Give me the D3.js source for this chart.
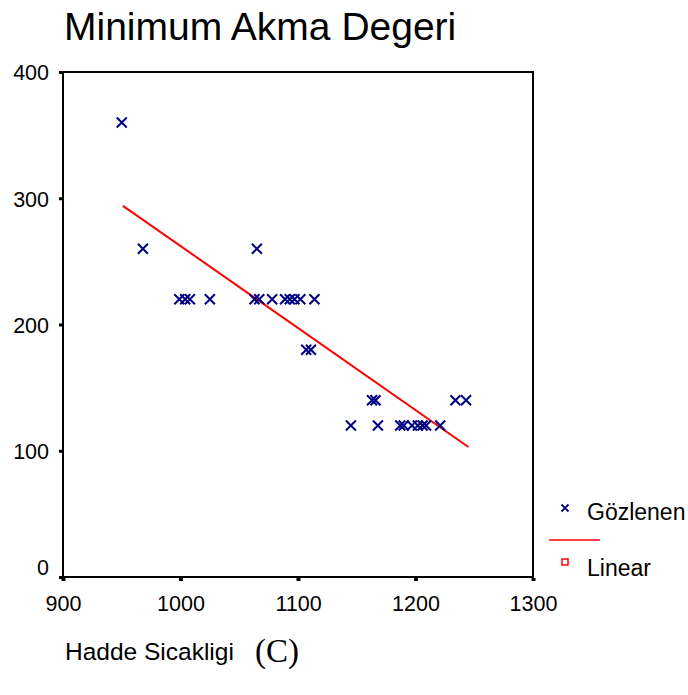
<!DOCTYPE html>
<html>
<head>
<meta charset="utf-8">
<script src="https://cdn.jsdelivr.net/npm/d3@7"></script>
<style>
  html, body { margin: 0; padding: 0; background: #fff; }
  svg { display: block; }
  .sans { font-family: "Liberation Sans", Arial, Helvetica, sans-serif; }
  .serif { font-family: "Liberation Serif", "Times New Roman", serif; }
</style>
</head>
<body>
<svg id="chart" width="688" height="695"></svg>
<script>
// Observed values: rolling temperature (C) vs. minimum yield value
const obsTemp = [
  950, 968, 1065,
  999, 1004, 1008, 1025, 1063, 1067, 1078, 1089, 1093, 1097, 1102, 1114,
  1107, 1111,
  1163, 1166, 1234, 1243,
  1145, 1168, 1187, 1190, 1197, 1202, 1206, 1209, 1221
];
const obsYield = [
  360, 260, 260,
  220, 220, 220, 220, 220, 220, 220, 220, 220, 220, 220, 220,
  180, 180,
  140, 140, 140, 140,
  120, 120, 120, 120, 120, 120, 120, 120, 120
];
// Linear fit, drawn over the observed temperature range
const fitTemp = [951, 1245];
const fitYield = [294, 103];

const xTicks = [900, 1000, 1100, 1200, 1300];
const yTicks = [0, 100, 200, 300, 400];

const titleText = "Minimum Akma Degeri";
const xLabel = "Hadde Sicakligi";
const xUnit = "(C)";
const legendLabels = ["Gözlenen", "Linear"];

const navy = "#000080";
const red = "#ff0000";

const svg = d3.select("#chart");

const x = d3.scaleLinear().domain([900, 1300]).range([63, 533]);
const y = d3.scaleLinear().domain([0, 400]).range([577, 72]);

// Title
svg.append("text")
  .attr("class", "sans")
  .attr("x", 64).attr("y", 40)
  .attr("font-size", 39)
  .attr("fill", "#000")
  .text(titleText);

// Plot frame
svg.append("rect")
  .attr("x", x(900)).attr("y", y(400))
  .attr("width", x(1300) - x(900)).attr("height", y(0) - y(400))
  .attr("fill", "none").attr("stroke", "#000").attr("stroke-width", 2);

// Y axis
const yAxis = svg.append("g")
  .attr("transform", `translate(${x(900) - 1},0)`)
  .call(d3.axisLeft(y).tickValues(yTicks).tickFormat(d3.format("d"))
    .tickSize(3).tickPadding(10).tickSizeOuter(0));
yAxis.select(".domain").remove();
yAxis.selectAll(".tick line").attr("stroke", "#000").attr("stroke-width", 3);
yAxis.selectAll(".tick text")
  .attr("class", "sans")
  .attr("font-size", 21.5)
  .attr("fill", "#000")
  .attr("dy", d => d === 0 ? "-0.1em" : "0.36em");

// X axis
const xAxis = svg.append("g")
  .attr("transform", `translate(0,${y(0) + 1})`)
  .call(d3.axisBottom(x).tickValues(xTicks).tickFormat(d3.format("d"))
    .tickSize(3).tickPadding(15).tickSizeOuter(0));
xAxis.select(".domain").remove();
xAxis.selectAll(".tick line").attr("stroke", "#000").attr("stroke-width", 4);
xAxis.selectAll(".tick text")
  .attr("class", "sans")
  .attr("font-size", 21.5)
  .attr("fill", "#000");

// Axis title
svg.append("text")
  .attr("class", "sans")
  .attr("x", 65).attr("y", 660)
  .attr("font-size", 24.5)
  .attr("fill", "#000")
  .text(xLabel);
svg.append("text")
  .attr("class", "serif")
  .attr("x", 255).attr("y", 662)
  .attr("font-size", 33)
  .attr("fill", "#000")
  .text(xUnit);

// Fitted line
const fitPts = fitTemp.map((t, i) => [t, fitYield[i]]);
svg.append("path")
  .datum(fitPts)
  .attr("d", d3.line().x(d => x(d[0])).y(d => y(d[1])))
  .attr("fill", "none").attr("stroke", red).attr("stroke-width", 2);

// Observed points as crosses
const cross = (cx, cy, r) => `M${cx - r},${cy - r}L${cx + r},${cy + r}M${cx - r},${cy + r}L${cx + r},${cy - r}`;
svg.append("g").selectAll("path")
  .data(obsTemp.map((t, i) => [t, obsYield[i]]))
  .join("path")
  .attr("d", d => cross(x(d[0]), y(d[1]), 5))
  .attr("stroke", navy).attr("stroke-width", 2).attr("fill", "none");

// Legend
const lg = svg.append("g");
lg.append("path").attr("d", cross(565, 508, 3.5))
  .attr("stroke", navy).attr("stroke-width", 1.8).attr("fill", "none");
lg.append("text").attr("class", "sans").attr("x", 587).attr("y", 520)
  .attr("font-size", 23).attr("fill", "#000").text(legendLabels[0]);
lg.append("line").attr("x1", 549).attr("x2", 600).attr("y1", 540).attr("y2", 540)
  .attr("stroke", red).attr("stroke-width", 1.5);
lg.append("rect").attr("x", 562).attr("y", 559).attr("width", 6).attr("height", 6)
  .attr("fill", "none").attr("stroke", red).attr("stroke-width", 1.5);
lg.append("text").attr("class", "sans").attr("x", 587).attr("y", 576)
  .attr("font-size", 23).attr("fill", "#000").text(legendLabels[1]);
</script>
</body>
</html>
